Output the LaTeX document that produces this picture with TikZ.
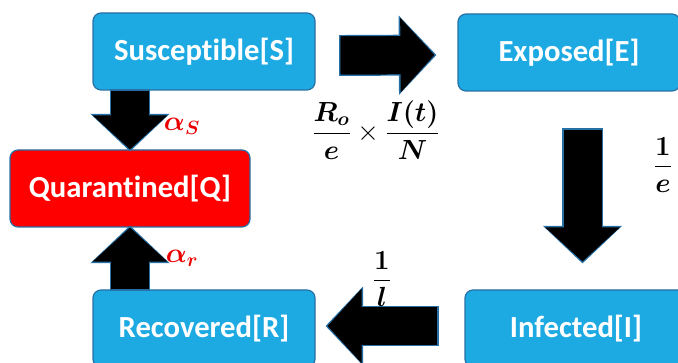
\documentclass[tikz,border=0pt]{standalone}
\usepackage{amsmath}
\usepackage{fontspec}
\setsansfont[Ligatures=NoCommon]{Carlito}
\usetikzlibrary{arrows.meta,calc}

\definecolor{boxblue}{RGB}{29,170,226}
\definecolor{edgeblue}{RGB}{38,112,165}
\definecolor{labelred}{RGB}{235,0,0}

\tikzset{
  state/.style={draw=edgeblue, line width=0.9pt, fill=boxblue, rounded corners=6pt,
    minimum width=166.5pt, minimum height=57.75pt, text=white,
    font=\sffamily\bfseries\fontsize{23}{27}\selectfont},
  blockarrow/.style={line width=28.5pt, black,
    -{Triangle[length=25.5pt,width=56pt,line width=0pt]},
    preaction={draw=edgeblue, line width=30.7pt,
      -{Triangle[length=28.2pt,width=59.5pt,line width=0pt]},
      shorten >=-1.5pt, shorten <=-1.1pt},
    preaction={draw=black, line width=28.5pt, -, shorten >=21pt}},
  rate/.style={font=\huge}
}

\begin{document}
\begin{tikzpicture}[x=0.75pt,y=0.75pt,yscale=-1]
\useasboundingbox (0,0) rectangle (678,363);

%Compartments
\node[state] (S) at (204,51.5) {Susceptible[S]};
\node[state] (E) at (569,52.5) {Exposed[E]};
\node[state, fill=red, minimum width=180pt] (Q) at (130,188.5) {Quarantined[Q]};
\node[state] (R) at (204,328.5) {Recovered[R]};
\node[state] (I) at (576,328.5) {Infected[I]};

%Block arrows
\draw[blockarrow] (S.south -| Q.north) -- (Q.north);
\draw[blockarrow] (R.north -| Q.south) -- (Q.south);
\draw[blockarrow] ($(S.east)+(25,4)$) -- ($(E.west)+(-23,2.5)$);
\draw[blockarrow] ($(E.south)+(13.5,38)$) -- ($(I.north)+(6.5,-28)$);
\draw[blockarrow] ($(I.west)+(-27,-2.5)$) -- ($(R.east)+(12,-2.5)$);

% Rate labels
\node[rate, text=labelred] (aS) at (182,126) {$\boldsymbol{\alpha_S}$};
\node[rate, text=labelred] (ar) at (182,258) {$\boldsymbol{\alpha_r}$};
\node[rate] (rSE) at (376,130) {$\displaystyle\frac{\boldsymbol{R_o}}{\boldsymbol{e}}\times\frac{\boldsymbol{I(t)}}{\boldsymbol{N}}$};
\node[rate] (rEI) at (663,165) {$\displaystyle\frac{\boldsymbol{1}}{\boldsymbol{e}}$};
\node[rate] (rIR) at (382,279) {$\displaystyle\frac{\boldsymbol{1}}{\boldsymbol{l}}$};

\end{tikzpicture}
\end{document}
